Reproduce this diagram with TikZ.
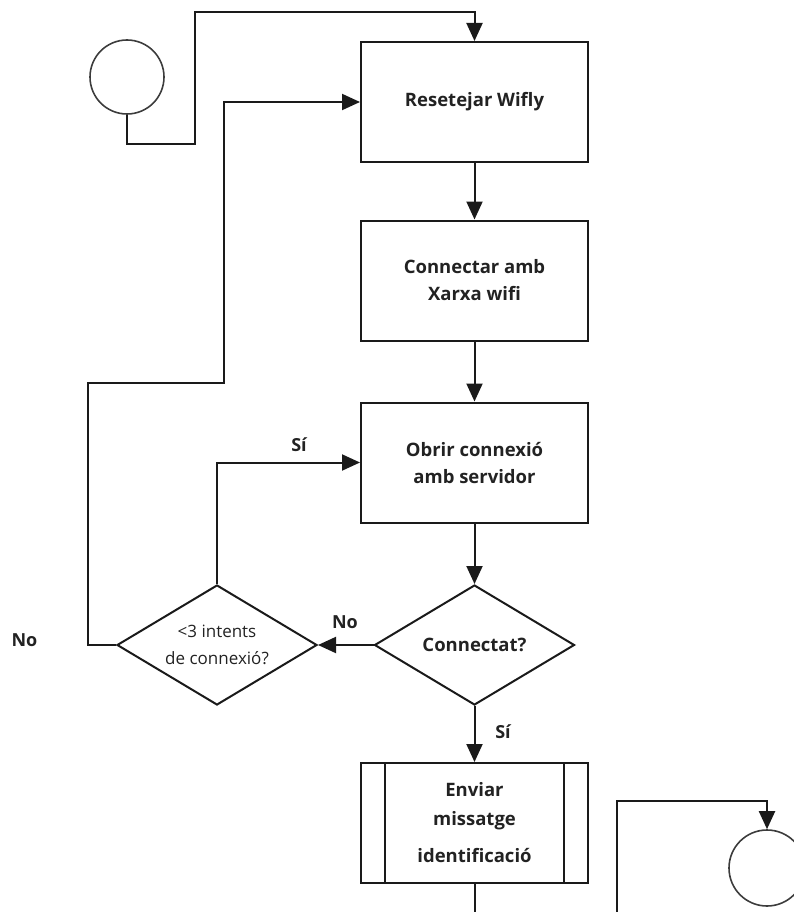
\documentclass[tikz,border=0pt]{standalone}
\usepackage{fontspec}
\setmainfont{Open Sans}
\usetikzlibrary{arrows.meta,shapes.geometric}

\definecolor{ink}{HTML}{1A1A1A}
\definecolor{txt}{HTML}{222222}

\tikzset{
  flow/.style={line width=2pt, draw=ink, -{Triangle[length=18pt,width=16pt]}},
  wire/.style={line width=2pt, draw=ink},
  stepbox/.style={rectangle, draw=ink, line width=2pt, minimum width=227pt,
    minimum height=120pt, inner sep=0pt, align=center, text=txt,
    font=\fontsize{18.5}{27}\selectfont\bfseries},
  decision/.style={diamond, draw=ink, line width=2pt, minimum width=200pt,
    minimum height=120pt, inner sep=0pt},
  dtext/.style={align=center, text=txt, font=\fontsize{17}{27}\selectfont},
  dtextb/.style={align=center, text=txt, font=\fontsize{18.5}{27}\selectfont\bfseries},
  connector/.style={circle, draw=ink!85, line width=1.6pt, inner sep=0pt},
  tag/.style={text=txt, font=\fontsize{18}{20}\selectfont\bfseries, inner sep=0pt}
}

\begin{document}
\begin{tikzpicture}[x=1pt,y=-1pt]
  \clip (0,0) rectangle (794,912);

  % on-page connectors
  \node[connector, minimum size=74pt] (start) at (127,77) {};
  \node[connector, minimum size=76pt] (finish) at (767,868) {};

  % process steps
  \node[stepbox] (reset) at (474.5,102) {Resetejar Wifly};
  \node[stepbox] (wifi) at (474.5,280.5) {Connectar amb\\Xarxa wifi};
  \node[stepbox] (open) at (474.5,462.5) {Obrir connexió\\amb servidor};
  \node[stepbox, font=\fontsize{18.5}{29}\selectfont\bfseries] (send) at (474.5,823)
    {Enviar\\missatge\\[8pt]identificació};
  \draw[wire] ([xshift=25pt]send.north west) -- ([xshift=25pt]send.south west);
  \draw[wire] ([xshift=-25pt]send.north east) -- ([xshift=-25pt]send.south east);

  % decisions
  \node[decision, label={[dtextb]center:Connectat?}] (conn) at (474.5,645) {};
  \node[decision, label={[dtext]center:{\textless3 intents\\de connexió?}}] (retry) at (217,645) {};

  % loose ends at the lower edge
  \coordinate (down) at (474.5,912);
  \coordinate (rise) at (617,912);

  % main flow
  \draw[flow] (start.south) |- (195,144) -- (195,12) -| (reset.north);
  \draw[flow] (reset) -- (wifi);
  \draw[flow] (wifi) -- (open);
  \draw[flow] (open) -- (conn);
  \draw[flow] (conn.west) -- (retry.east);
  \draw[flow] (retry.north) |- (open.west);
  \draw[flow] (retry.west) -| (88,383) -- (224,383) |- (reset.west);
  \draw[flow] (conn.south) -- (send.north);
  \draw[wire] (send.south) -- (down);
  \draw[flow] (rise) |- (767,801) -- (finish.north);

  % branch labels
  \node[tag] (lno) at (345,622) {No};
  \node[tag] (lsi) at (299,445) {Sí};
  \node[tag] (lnofar) at (24.5,640) {No};
  \node[tag] (lsid) at (503,732) {Sí};
\end{tikzpicture}
\end{document}
